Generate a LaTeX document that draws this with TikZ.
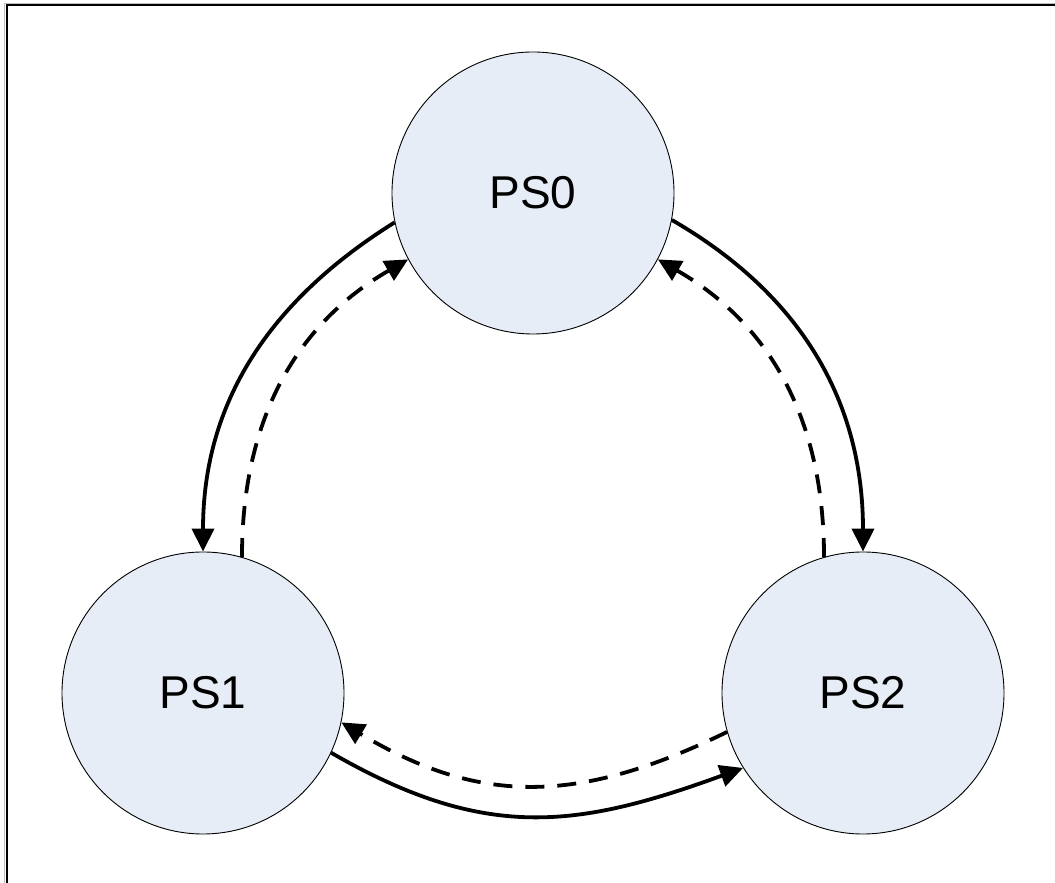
\documentclass[tikz,border=0pt]{standalone}
\usepackage{fontspec}
\setmainfont{Liberation Sans}
\usetikzlibrary{arrows.meta}
\definecolor{psfill}{RGB}{230,237,247}
\begin{document}
\begin{tikzpicture}[x=1pt,y=1pt,
  state/.style={circle,draw=black,line width=0.9pt,fill=psfill,minimum size=282pt,inner sep=0pt,font=\fontsize{46}{50}\selectfont},
  conn/.style={line width=3.8pt,-{Triangle[length=23pt,width=22pt]}},
  dconn/.style={conn,dash pattern=on 19pt off 13pt}]
\useasboundingbox (0,0) rectangle (1055,883);
\draw[gray!50,line width=1pt] (4.5,-20) -- (4.5,879) -- (1080,879);
\draw[black,line width=2pt] (6.5,-20) -- (6.5,877.5) -- (1080,877.5);
\node[state] (PS0) at (533,690) {PS0};
\node[state] (PS1) at (203,190) {PS1};
\node[state] (PS2) at (863,190) {PS2};
\draw[conn] (PS0.192) to[out=212,in=90] (PS1.90);
\draw[dconn] (PS1.74) to[out=90,in=210] (PS0.208);
\draw[conn] (PS0.-11) to[out=-30,in=90] (PS2.90);
\draw[dconn] (PS2.106) to[out=90,in=-30] (PS0.-28);
\draw[conn] (PS1.-25) to[out=-30,in=200,looseness=1.1] (PS2.212);
\draw[dconn] (PS2.196) to[out=206,in=-31,looseness=1.08] (PS1.-12);
\end{tikzpicture}
\end{document}
